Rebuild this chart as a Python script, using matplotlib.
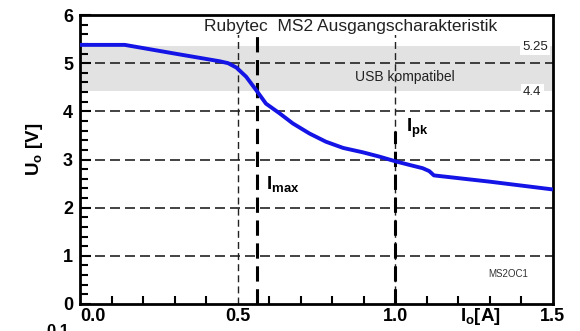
import numpy as np
import matplotlib.pyplot as plt
from matplotlib.ticker import MultipleLocator

# output characteristic
i_out = [0.0, 0.142, 0.30, 0.443, 0.47, 0.496, 0.527, 0.559, 0.59, 0.633, 0.675,
         0.728, 0.78, 0.835, 0.897, 0.95, 1.002, 1.05, 1.087, 1.108, 1.123, 1.30, 1.498]
u_out = [5.38, 5.38, 5.2, 5.04, 5.0, 4.91, 4.72, 4.44, 4.16, 3.96, 3.75,
         3.54, 3.37, 3.24, 3.15, 3.06, 2.96, 2.88, 2.82, 2.76, 2.67, 2.54, 2.38]

usb_band = (4.42, 5.35)
i_max = 0.56
i_pk = 1.0
x_ticks = [0.0, 0.5, 1.0, 1.5]
x_labels = ['0.0', '0.5', '1.0', '1.5']
y_ticks = [0, 1, 2, 3, 4, 5, 6]

plt.rcParams['font.family'] = ['Liberation Sans', 'DejaVu Sans']
plt.rcParams['mathtext.fontset'] = 'custom'
plt.rcParams['mathtext.rm'] = 'Liberation Sans'
plt.rcParams['mathtext.bf'] = 'Liberation Sans:bold'
plt.rcParams['mathtext.it'] = 'Liberation Sans:italic'

fig = plt.figure(figsize=(5.8, 3.31), dpi=100)
ax = fig.add_axes([0.138, 0.0816, 0.815, 0.873])

ax.axhspan(usb_band[0], usb_band[1], color='#e2e2e2', zorder=0, lw=0)
for y in [1, 2, 3, 4, 5]:
    ax.axhline(y, color='#222222', lw=1.2, ls=(0, (6, 3)), zorder=1)
ax.axvline(0.5, color='#222222', lw=1.0, ls=(0, (5, 3)), zorder=1)
ax.axvline(i_pk, color='#222222', lw=1.0, ls=(0, (5, 3)), zorder=1)
ax.plot([i_max, i_max], [0, 5.65], color='black', lw=2.2, ls=(0, (5, 2.5)), zorder=2)
ax.plot([i_pk, i_pk], [0, 3.6], color='black', lw=2.2, ls=(0, (5, 2.5)), zorder=2)

ax.plot(i_out, u_out, color='#1414e6', lw=2.8, zorder=3,
        solid_joinstyle='round', solid_capstyle='round')

ax.text(0.86, 5.76, 'Rubytec  MS2 Ausgangscharakteristik', ha='center', va='center',
        fontsize=12.5, color='#222222', zorder=2.4,
        bbox=dict(facecolor='white', edgecolor='none', pad=1))
ax.text(1.445, 5.33, '5.25', ha='center', va='center', fontsize=9.5, color='#222222',
        bbox=dict(facecolor='white', edgecolor='none', pad=1.5), zorder=2.4)
ax.text(1.435, 4.4, '4.4', ha='center', va='center', fontsize=9.5, color='#222222',
        bbox=dict(facecolor='white', edgecolor='none', pad=1.5), zorder=2.4)
ax.text(1.03, 4.72, 'USB kompatibel', ha='center', va='center', fontsize=10,
        color='#222222', zorder=4)
ax.text(1.035, 3.65, r'$\mathbf{I_{pk}}$', ha='left', va='center', fontsize=13.5, zorder=4)
ax.text(0.59, 2.5, r'$\mathbf{I_{max}}$', ha='left', va='center', fontsize=13.5, zorder=4)
ax.text(1.36, 0.63, 'MS2OC1', ha='center', va='center', fontsize=7, color='#333333', zorder=4)

ax.set_xlim(0, 1.5)
ax.set_ylim(0, 6)
ax.set_xticks(x_ticks)
ax.set_xticklabels(x_labels, fontsize=13, fontweight='bold')
ax.set_yticks(y_ticks)
ax.set_yticklabels([str(v) for v in y_ticks], fontsize=13, fontweight='bold')
ax.get_xticklabels()[0].set_horizontalalignment('left')
ax.xaxis.set_minor_locator(MultipleLocator(0.1))
ax.yaxis.set_minor_locator(MultipleLocator(0.2))
ax.tick_params(which='both', direction='in', top=False, right=False, width=1.5)
ax.tick_params(which='major', length=0, pad=3)
ax.tick_params(axis='y', which='major', length=8, pad=5)
ax.tick_params(which='minor', length=6)
for s in ax.spines.values():
    s.set_linewidth(2)

fig.text(0.828, 0.043, r'$\mathbf{I_o[A]}$', ha='center', va='center', fontsize=13.5)
fig.text(0.06, 0.55, r'$\mathbf{U_o}$ [V]', ha='center', va='center', rotation=90,
         fontsize=13.5, fontweight='bold')
fig.text(0.1, 0.0, '0.1', ha='center', va='center', fontsize=12, fontweight='bold')

fig.savefig('out.png', dpi=100)
